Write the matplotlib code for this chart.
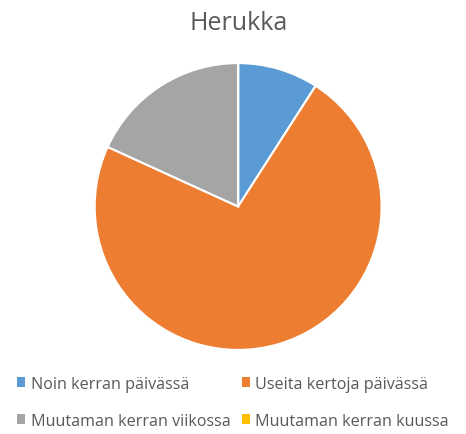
import matplotlib
matplotlib.use("Agg")
import matplotlib.pyplot as plt
from matplotlib.patches import Patch

# data
labels = ["Noin kerran päivässä", "Useita kertoja päivässä",
          "Muutaman kerran viikossa", "Muutaman kerran kuussa"]
values = [1, 8, 2, 0]
colors = ["#5B9BD5", "#ED7D31", "#A5A5A5", "#FFC000"]
title = "Herukka"

plt.rcParams["font.family"] = ["Open Sans", "DejaVu Sans"]
text_color = "#595959"

fig = plt.figure(figsize=(4.66, 4.35), dpi=100)
ax = fig.add_axes([0.2, 0.19, 0.622, 0.666])
ax.pie(values, colors=colors, startangle=90, counterclock=False,
       radius=1.0, wedgeprops=dict(edgecolor="white", linewidth=1.5))
ax.set_xlim(-1.01, 1.01)
ax.set_ylim(-1.01, 1.01)
ax.set_aspect("equal")
ax.axis("off")

fig.text(0.511, 0.947, title, ha="center", va="center",
         fontsize=18, color=text_color)

# legend is row-major in the reference; matplotlib fills column-major
order = [0, 2, 1, 3]
handles = [Patch(facecolor=colors[i], edgecolor="none") for i in order]
fig.legend(handles, [labels[i] for i in order], ncol=2,
           loc="center", bbox_to_anchor=(0.5, 0.073),
           frameon=False, fontsize=11.6, labelcolor=text_color,
           handlelength=0.5, handleheight=0.5, handletextpad=0.35,
           columnspacing=0.7, labelspacing=1.3)

fig.savefig("out.png", dpi=100, facecolor="white")
